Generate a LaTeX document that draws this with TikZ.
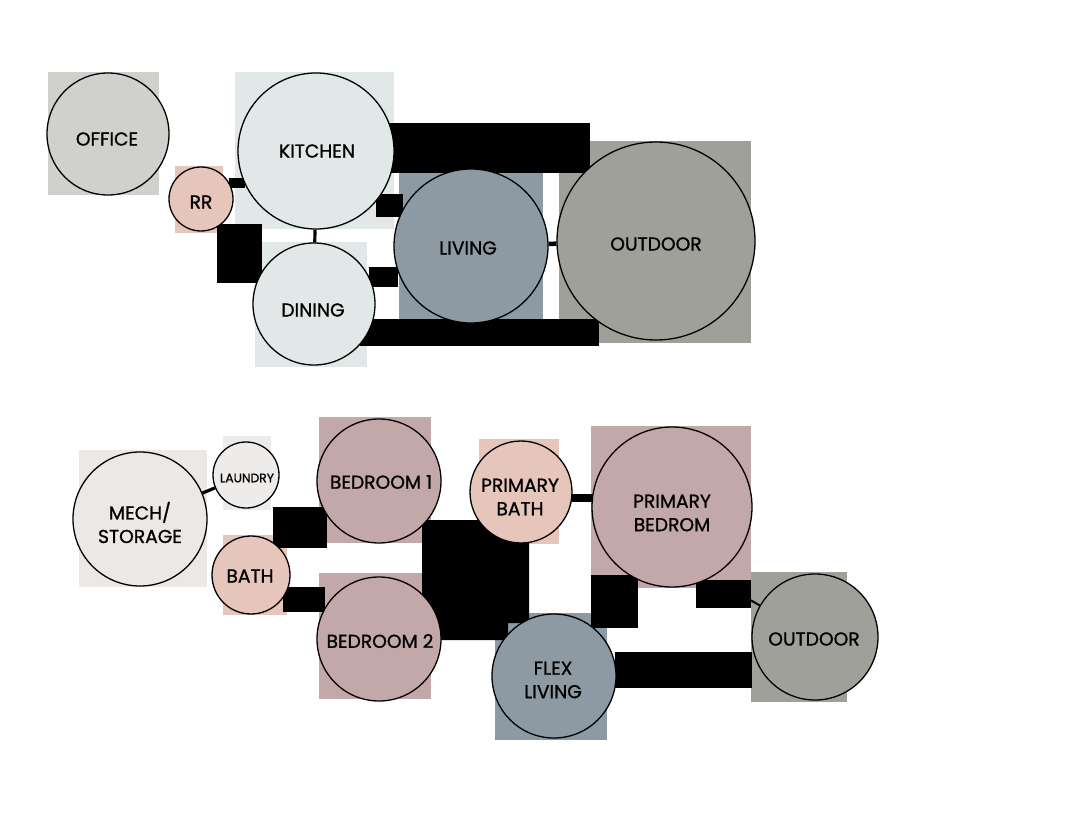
\documentclass[tikz,border=0pt]{standalone}
\usepackage{fontspec}
\setmainfont{Poppins}
\newfontfamily\roomfont{Poppins}[FakeBold=1.0]
\definecolor{cOffice}{HTML}{D0D0CC}
\definecolor{cKitchen}{HTML}{E1E8E7}
\definecolor{cPink}{HTML}{E6C5BB}
\definecolor{cLiving}{HTML}{8E9AA3}
\definecolor{cOutdoor}{HTML}{A0A09B}
\definecolor{cMech}{HTML}{EBE8E6}
\definecolor{cLaundry}{HTML}{EEECEA}
\definecolor{cBed}{HTML}{C3A8AA}
\tikzset{
  room/.style={circle, draw=black, line width=1.3pt, inner sep=0pt},
  lbl/.style={inner sep=0pt, align=center, text=black,
    font=\roomfont\fontsize{18.7}{23.5}\selectfont},
  small/.style={font=\roomfont\fontsize{12.3}{14}\selectfont},
  pad/.style={fill=#1},
  bar/.style={fill=black},
  tie/.style={draw=black, line width=3.2pt},
}
\begin{document}
\begin{tikzpicture}[x=1pt,y=-1pt]
\useasboundingbox[fill=white] (0,0) rectangle (1092,813);
% background squares
\fill[pad=cOffice]  (48,72) rectangle (159,195);
\fill[pad=cKitchen] (235,72) rectangle (394,229);
\fill[pad=cPink]    (175,166) rectangle (223,233);
\fill[pad=cKitchen] (255,242) rectangle (367,367);
\fill[pad=cLiving]  (399,173) rectangle (543,319);
\fill[pad=cOutdoor] (559,141) rectangle (751,343);
\fill[pad=cMech]    (79,450) rectangle (207,587);
\fill[pad=cLaundry] (223,436) rectangle (271,510);
\fill[pad=cPink]    (223,535) rectangle (287,615);
\fill[pad=cBed]     (319,417) rectangle (431,543);
\fill[pad=cBed]     (319,573) rectangle (431,699);
\fill[pad=cPink]    (479,439) rectangle (559,544);
\fill[pad=cBed]     (591,426) rectangle (751,588);
\fill[pad=cOutdoor] (751,572) rectangle (847,702);
\fill[pad=cLiving]  (495,613) rectangle (607,740);
% black adjacency bars
\fill[bar] (229,178) rectangle (245,188);
\fill[bar] (217,224) rectangle (262,283);
\fill[bar] (376,194) rectangle (403,217);
\fill[bar] (369,267) rectangle (398,287);
\fill[bar] (390,123) rectangle (590,173);
\fill[bar] (360,319) rectangle (599,346);
\fill[bar] (273,507) rectangle (327,548);
\fill[bar] (283,587) rectangle (325,612);
\fill[bar] (422,520) -- (529,520) -- (529,623) -- (508,623) -- (508,640) -- (422,640) -- cycle;
\fill[bar] (591,575) rectangle (638,628);
\fill[bar] (696,580) rectangle (751,608);
\fill[bar] (615,652) rectangle (752,688);
\fill[bar] (572,494) rectangle (593,502);
% rooms
\node[room, fill=cOffice,  minimum size=122pt] (office)  at (108,134) {};
\node[room, fill=cKitchen, minimum size=156pt] (kitchen) at (316,151) {};
\node[room, fill=cPink,    minimum size=64pt]  (rr)      at (201,199) {};
\node[room, fill=cKitchen, minimum size=122pt] (dining)  at (314,304) {};
\node[room, fill=cLiving,  minimum size=154pt] (living)  at (471,246) {};
\node[room, fill=cOutdoor, minimum size=198pt] (outdoor) at (656,241) {};
\node[room, fill=cMech,    minimum size=134pt] (mech)    at (140,519) {};
\node[room, fill=cLaundry, minimum size=66pt]  (laundry) at (246,475) {};
\node[room, fill=cPink,    minimum size=78pt]  (bath)    at (251,575) {};
\node[room, fill=cBed,     minimum size=124pt] (bedone)  at (379,481) {};
\node[room, fill=cBed,     minimum size=124pt] (bedtwo)  at (379,639) {};
\node[room, fill=cPink,    minimum size=102pt] (pbath)   at (521,492) {};
\node[room, fill=cBed,     minimum size=160pt] (pbed)    at (672,507) {};
\node[room, fill=cOutdoor, minimum size=126pt] (outdoortwo) at (815,637) {};
\node[room, fill=cLiving,  minimum size=124pt] (flex)    at (554,676) {};
% labels
\node[lbl] (office-t)  at (107,139) {OFFICE};
\node[lbl] (kitchen-t) at (317,151) {KITCHEN};
\node[lbl] (rr-t)      at (201,202) {RR};
\node[lbl] (dining-t)  at (313,310) {DINING};
\node[lbl] (living-t)  at (468,248) {LIVING};
\node[lbl] (outdoor-t) at (656,244) {OUTDOOR};
\node[lbl] (mech-t)    at (140,522.5) {MECH/\\STORAGE};
\node[lbl, small] (laundry-t) at (247,478) {LAUNDRY};
\node[lbl] (bath-t)    at (250,576) {BATH};
\node[lbl] (bedone-t)  at (381,482) {BEDROOM 1};
\node[lbl] (bedtwo-t)  at (380,641) {BEDROOM 2};
\node[lbl] (pbath-t)   at (520,497) {PRIMARY\\BATH};
\node[lbl] (pbed-t)    at (672,513) {PRIMARY\\BEDROM};
\node[lbl] (outdoortwo-t) at (814,639) {OUTDOOR};
\node[lbl] (flex-t)    at (553,680) {FLEX\\LIVING};
% thin ties
\draw[tie] (kitchen) -- (dining);
\draw[tie, line width=4.5pt] (living) -- (outdoor);
\draw[tie] (mech) -- (laundry);
\coordinate (pbedtie) at (745,597);
\draw[tie, line width=2pt] (pbedtie) -- (outdoortwo);
\end{tikzpicture}
\end{document}
